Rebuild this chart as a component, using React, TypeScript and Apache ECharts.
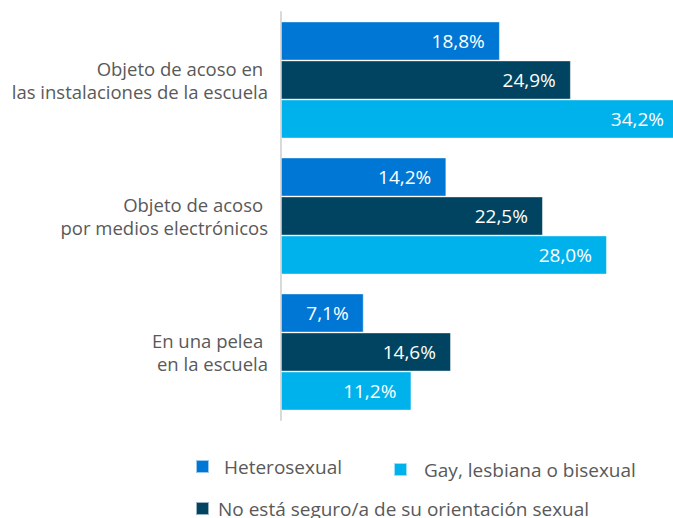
import React, { useEffect, useRef } from "react";
import * as echarts from "echarts";

const categories = [
  "Objeto de acoso en \nlas instalaciones de la escuela",
  "Objeto de acoso \npor medios electrónicos",
  "En una pelea \nen la escuela",
];
const seriesNames = [
  "Heterosexual",
  "No está seguro/a de su orientación sexual",
  "Gay, lesbiana o bisexual",
];
const heterosexual = [18.8, 14.2, 7.1];
const noSeguro = [24.9, 22.5, 14.6];
const gayLesbianaBisexual = [34.2, 28.0, 11.2];
const colors = ["#0077d5", "#004461", "#00b2ec"];

const FONT = "'Open Sans', sans-serif";

export default function App() {
  const ref = useRef<HTMLDivElement>(null);
  useEffect(() => {
    if (!ref.current) return;
    const chart = echarts.init(ref.current, undefined, { renderer: "svg" });
    const values = [heterosexual, noSeguro, gayLesbianaBisexual];
    const fmt = (p: any) => p.value.toFixed(1).replace(".", ",") + "%";
    const legendText = { color: "#595959", fontSize: 19, fontFamily: FONT };
    const legendBase = {
      icon: "rect",
      itemWidth: 13,
      itemHeight: 13,
      padding: 0,
      selectedMode: false,
    };
    chart.setOption({
      animation: false,
      backgroundColor: "#ffffff",
      grid: { left: 281, top: 12, right: 0, height: 408, containLabel: false },
      xAxis: { type: "value", min: 0, max: 33.68, show: false },
      yAxis: {
        type: "category",
        data: categories,
        inverse: true,
        axisLine: { show: true, lineStyle: { color: "#d9d9d9", width: 2 } },
        axisTick: { show: false },
        axisLabel: {
          margin: 13,
          color: "#595959",
          fontSize: 18.5,
          lineHeight: 23,
          fontFamily: FONT,
          align: "right",
        },
      },
      legend: [
        {
          ...legendBase,
          data: [seriesNames[0]],
          left: 195,
          top: 457,
          textStyle: { ...legendText, padding: [0, 0, 0, 10] },
        },
        {
          ...legendBase,
          data: [seriesNames[2]],
          left: 393,
          top: 460,
          textStyle: { ...legendText, padding: [0, 0, 0, 12] },
        },
        {
          ...legendBase,
          data: [seriesNames[1]],
          left: 195,
          top: 499,
          textStyle: { ...legendText, padding: [0, 0, 0, 4] },
        },
      ],
      series: seriesNames.map((name, i) => ({
        name,
        type: "bar",
        data: values[i],
        barWidth: 39,
        barGap: "0%",
        clip: false,
        itemStyle: { color: colors[i], borderColor: "rgba(255,255,255,0.6)", borderWidth: 0.8 },
        label: {
          show: true,
          position: "insideRight",
          distance: 15,
          color: "#ffffff",
          fontSize: 19,
          fontFamily: FONT,
          formatter: fmt,
        },
      })),
    });
    return () => chart.dispose();
  }, []);
  return (
    <div
      ref={ref}
      style={{ position: "fixed", left: 0, top: 0, width: 673, height: 518 }}
    />
  );
}
